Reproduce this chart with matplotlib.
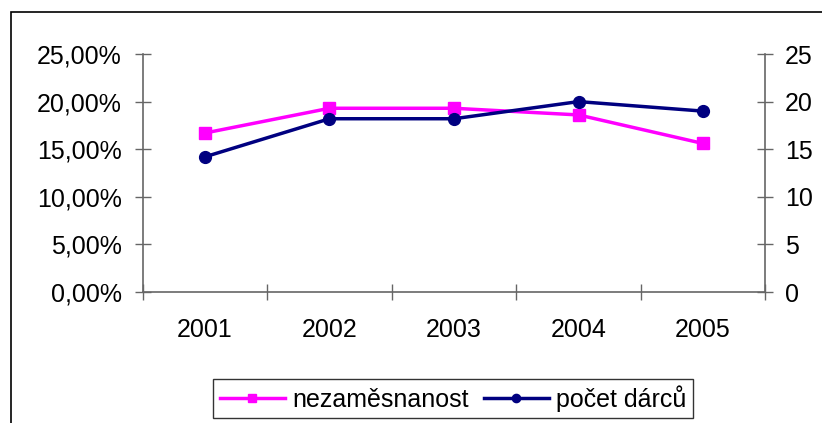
import numpy as np
import matplotlib
matplotlib.use("Agg")
import matplotlib.pyplot as plt
from matplotlib.ticker import FuncFormatter, FixedLocator
from matplotlib.patches import Rectangle

# data
years = ["2001", "2002", "2003", "2004", "2005"]
nezamestnanost = [16.7, 19.3, 19.3, 18.6, 15.6]   # percent
pocet_darcu = [14.2, 18.2, 18.2, 20.0, 19.0]
left_ticks = [0, 5, 10, 15, 20, 25]
right_ticks = [0, 5, 10, 15, 20, 25]

plt.rcParams['font.family'] = ['Liberation Sans', 'DejaVu Sans']
fs = 18
axis_col = '#666666'

fig = plt.figure(figsize=(8.22, 4.23), dpi=100)
ax = fig.add_axes([142.7 / 822, 1 - 292 / 423, (765.3 - 142.7) / 822, (292 - 54) / 423])
ax2 = ax.twinx()

x = np.arange(len(years)) + 0.5
l1, = ax.plot(x, np.array(nezamestnanost) / 100, color='#FF00FF', lw=2.5,
              marker='s', ms=8.5, mec='#FF00FF', mfc='#FF00FF', label='nezaměsnanost')
l2, = ax2.plot(x, pocet_darcu, color='#000080', lw=2.5,
               marker='o', ms=8.5, mec='#000080', mfc='#000080', label='počet dárců')

ax.set_xlim(0, len(years))
ax.set_ylim(0, 0.25)
ax2.set_ylim(0, 25)

ax.set_yticks(np.array(left_ticks) / 100)
ax.yaxis.set_major_formatter(FuncFormatter(lambda v, p: ('%.2f%%' % (v * 100)).replace('.', ',')))
ax2.set_yticks(right_ticks)

ax.xaxis.set_major_locator(FixedLocator(np.arange(len(years) + 1)))
ax.xaxis.set_minor_locator(FixedLocator(x))
ax.set_xticklabels([])
ax.set_xticklabels(years, minor=True)

for a in (ax, ax2):
    for s in a.spines.values():
        s.set_visible(False)
ax.spines['left'].set_visible(True)
ax.spines['bottom'].set_visible(True)
ax2.spines['right'].set_visible(True)
for s in (ax.spines['left'], ax.spines['bottom'], ax2.spines['right']):
    s.set_color(axis_col)
    s.set_linewidth(1.2)

ax.tick_params(axis='y', direction='inout', length=11.5, width=1, color=axis_col,
               labelsize=fs, pad=9.5)
ax2.tick_params(axis='y', direction='inout', length=11.5, width=1, color=axis_col,
                labelsize=fs, pad=8.5)
ax.tick_params(axis='x', which='major', direction='inout', length=11.5, width=1,
               color=axis_col)
ax.tick_params(axis='x', which='minor', length=0, labelsize=fs, pad=19)

leg = fig.legend([l1, l2], ['nezaměsnanost', 'počet dárců'], loc='center',
                 bbox_to_anchor=(453 / 822, 1 - 398.5 / 423), ncol=2, fontsize=fs,
                 frameon=True, fancybox=False, edgecolor='black', handlelength=2.6,
                 handletextpad=0.3, columnspacing=0.6, borderpad=0.25, markerscale=0.7)
leg.get_frame().set_linewidth(1.0)

# outer chart border (cut off at right and bottom)
fig.patches.append(Rectangle((11 / 822, -0.1), 1.2, 1.1 - 12.3 / 423,
                             transform=fig.transFigure, fill=False,
                             edgecolor='black', lw=1.2))

fig.savefig("out.png", dpi=100)
